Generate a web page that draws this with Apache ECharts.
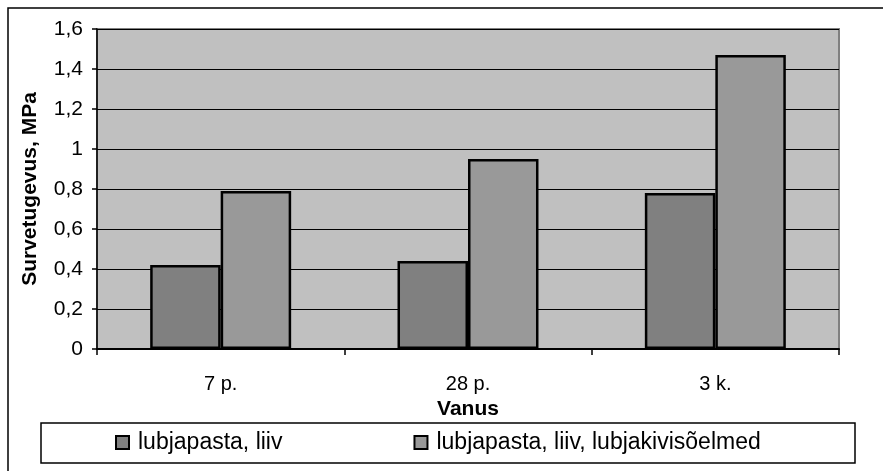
<!DOCTYPE html>
<html>
<head>
<meta charset="utf-8">
<script src="https://cdn.jsdelivr.net/npm/echarts@6/dist/echarts.min.js"></script>
<style>
  html, body { margin: 0; padding: 0; background: #fff; }
  #chart { width: 883px; height: 471px; }
</style>
</head>
<body>
<div id="chart"></div>
<script>
// Compressive strength by age
const categories = ['7 p.', '28 p.', '3 k.'];
const seriesNames = ['lubjapasta, liiv', 'lubjapasta, liiv, lubjakivisõelmed'];
const limeSand = [0.42, 0.44, 0.78];
const limeSandScreenings = [0.79, 0.95, 1.47];

const font = 'Arial, "Liberation Sans", sans-serif';

const chart = echarts.init(document.getElementById('chart'), null, { renderer: 'canvas' });

chart.setOption({
  animation: false,
  backgroundColor: '#ffffff',
  textStyle: { fontFamily: font, color: '#000' },
  graphic: [
    {
      type: 'rect',
      shape: { x: 8, y: 8, width: 900, height: 500 },
      style: { fill: 'none', stroke: '#000', lineWidth: 1.5 },
      z: -10
    },
    {
      type: 'rect',
      shape: { x: 41, y: 423, width: 814, height: 40 },
      style: { fill: '#fff', stroke: '#000', lineWidth: 1.5 },
      z: -5
    }
  ],
  grid: {
    left: 97, right: 44, top: 29, bottom: 122,
    show: true,
    backgroundColor: '#C0C0C0',
    borderColor: '#808080',
    borderWidth: 2
  },
  legend: {
    left: 115,
    top: 431,
    itemWidth: 13,
    itemHeight: 13,
    itemGap: 131,
    icon: 'rect',
    padding: 0,
    textStyle: { fontSize: 23, fontFamily: font, color: '#000', padding: [0, 0, 0, 4] },
    data: seriesNames
  },
  xAxis: {
    type: 'category',
    data: categories,
    name: 'Vanus',
    nameLocation: 'middle',
    nameGap: 47,
    nameTextStyle: { fontSize: 21, fontWeight: 'bold', color: '#000' },
    axisLine: { lineStyle: { color: '#000', width: 2 } },
    axisTick: { show: true, length: 6, lineStyle: { color: '#000', width: 1.5 } },
    axisLabel: { fontSize: 20, color: '#000', margin: 25 }
  },
  yAxis: {
    type: 'value',
    min: 0,
    max: 1.6,
    interval: 0.2,
    name: 'Survetugevus, MPa',
    nameLocation: 'middle',
    nameGap: 56,
    nameTextStyle: { fontSize: 21, fontWeight: 'bold', color: '#000' },
    axisLine: { show: true, lineStyle: { color: '#000', width: 1.5 } },
    axisTick: { show: true, length: 5, lineStyle: { color: '#000', width: 1.5 } },
    axisLabel: {
      fontSize: 21,
      color: '#000',
      margin: 14,
      formatter: v => String(Math.round(v * 10) / 10).replace('.', ',')
    },
    splitLine: { show: true, lineStyle: { color: '#000', width: 1 } }
  },
  series: [
    {
      name: seriesNames[0],
      type: 'bar',
      data: limeSand,
      barGap: '0%',
      barCategoryGap: '43%',
      itemStyle: { color: '#808080', borderColor: '#000', borderWidth: 2.5 }
    },
    {
      name: seriesNames[1],
      type: 'bar',
      data: limeSandScreenings,
      barGap: '0%',
      barCategoryGap: '43%',
      itemStyle: { color: '#999999', borderColor: '#000', borderWidth: 2.5 }
    }
  ]
});
</script>
</body>
</html>
